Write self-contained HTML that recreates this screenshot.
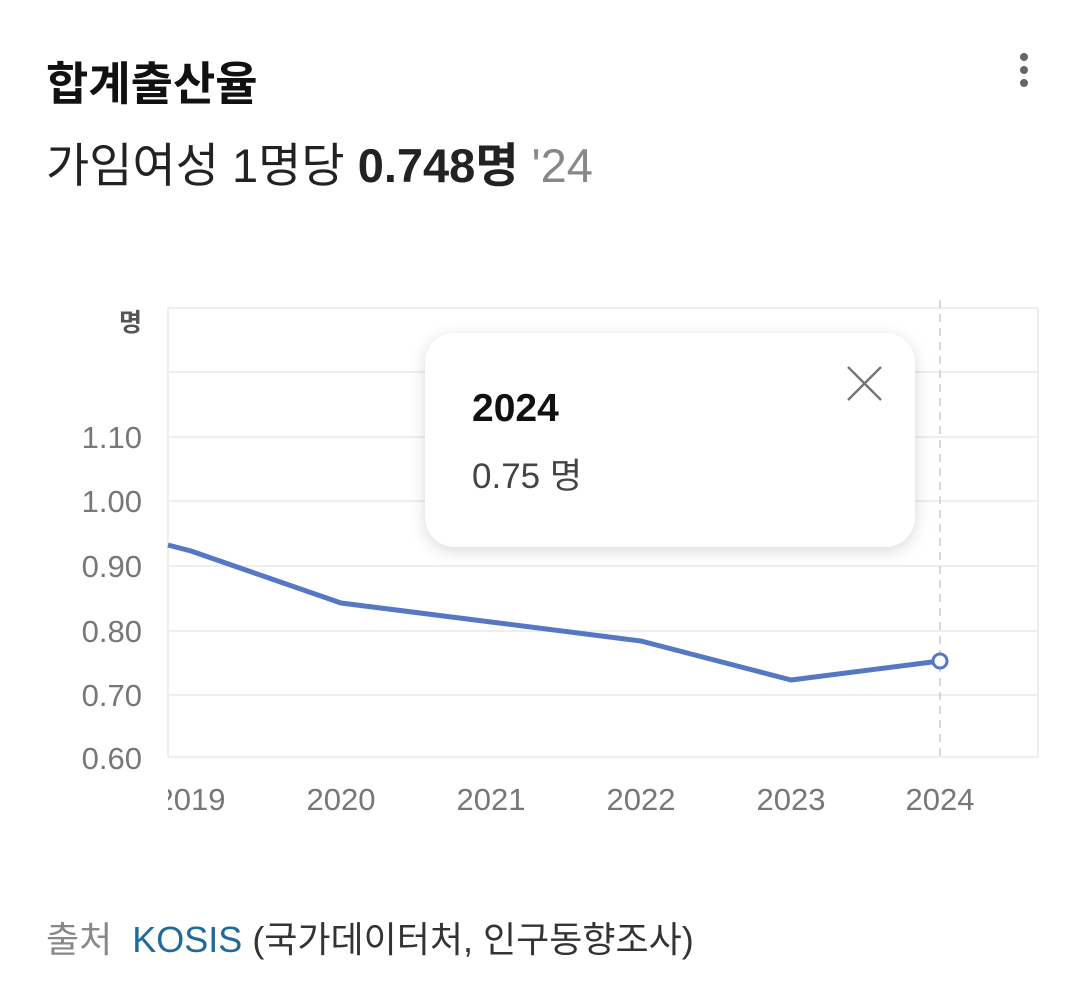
<!DOCTYPE html>
<html><head><meta charset="utf-8"><style>
body{margin:0;width:1080px;height:990px;background:#fff;overflow:hidden;font-family:"Liberation Sans","Noto Sans CJK KR",sans-serif;position:relative}
.t{position:absolute;white-space:nowrap}
</style></head><body>
<div class="t" style="left:46px;top:56px;font-size:46px;font-weight:bold;color:#111;line-height:56px">합계출산율</div>
<div class="t" style="left:46px;top:138px;font-size:47px;color:#222;line-height:56px">가임여성 1명당 <b>0.748명</b> <span style="color:#888">'24</span></div>
<svg width="1080" height="990" style="position:absolute;left:0;top:0">
<circle cx="1024" cy="57" r="4" fill="#666"/><circle cx="1024" cy="70" r="4" fill="#666"/><circle cx="1024" cy="83" r="4" fill="#666"/>
<g stroke="#eee" stroke-width="2" fill="none">
<line x1="168" y1="308" x2="1038" y2="308"/><line x1="168" y1="372" x2="1038" y2="372"/><line x1="168" y1="437" x2="1038" y2="437"/><line x1="168" y1="501" x2="1038" y2="501"/><line x1="168" y1="566" x2="1038" y2="566"/><line x1="168" y1="631" x2="1038" y2="631"/><line x1="168" y1="695" x2="1038" y2="695"/><line x1="168" y1="757" x2="1038" y2="757"/>
<line x1="168" y1="308" x2="168" y2="757"/><line x1="1038" y1="308" x2="1038" y2="757"/>
</g>
<line x1="940" y1="300" x2="940" y2="757" stroke="#ccc" stroke-width="1.5" stroke-dasharray="8,6"/>
<g font-size="31" fill="#777" text-anchor="end" font-family="Liberation Sans, sans-serif">
<text x="142" y="448">1.10</text><text x="142" y="512">1.00</text><text x="142" y="577">0.90</text><text x="142" y="642">0.80</text><text x="142" y="706">0.70</text><text x="142" y="769">0.60</text>
</g>
<text x="142" y="331" font-size="25" font-weight="bold" fill="#555" text-anchor="end" font-family="Noto Sans CJK KR, sans-serif">명</text>
<g font-size="31" fill="#777" text-anchor="middle" font-family="Liberation Sans, sans-serif">
<text x="191" y="810">2019</text><text x="341" y="810">2020</text><text x="491" y="810">2021</text><text x="641" y="810">2022</text><text x="791" y="810">2023</text><text x="940" y="810">2024</text>
</g>
<rect x="150" y="780" width="18" height="40" fill="#fff"/>
<polyline points="168,545 191,551 341,603 491,622 641,641 791,680 940,661" fill="none" stroke="#5577c4" stroke-width="5" stroke-linejoin="round"/>
<circle cx="940" cy="661" r="7" fill="#fff" stroke="#5577c4" stroke-width="3"/>
<defs><filter id="s" x="-20%" y="-20%" width="140%" height="140%"><feDropShadow dx="0" dy="4" stdDeviation="8" flood-color="#000" flood-opacity="0.15"/></filter></defs>
<rect x="425" y="333" width="490" height="214" rx="30" fill="#fff" filter="url(#s)"/>
<text x="472" y="421" font-size="39" font-weight="bold" fill="#111" font-family="Liberation Sans, sans-serif">2024</text>
<text x="472" y="488" font-size="35" fill="#444" font-family="Liberation Sans, Noto Sans CJK KR, sans-serif">0.75 명</text>
<g stroke="#777" stroke-width="2.5"><line x1="848" y1="367" x2="881" y2="400"/><line x1="881" y1="367" x2="848" y2="400"/></g>
</svg>
<div class="t" style="left:46px;top:918px;font-size:36px;color:#888;line-height:44px">출처&nbsp; <span style="color:#1f6a9a">KOSIS</span> <span style="color:#333">(국가데이터처, 인구동향조사)</span></div>
</body></html>
